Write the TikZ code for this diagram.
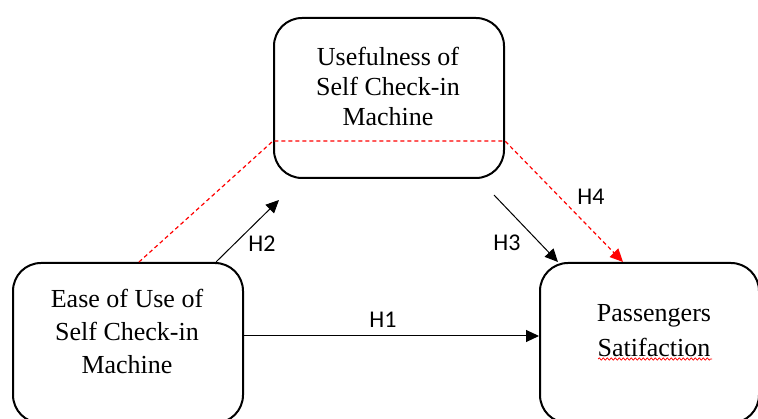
\documentclass[tikz,border=0pt]{standalone}
\usepackage{fontspec}
\setmainfont{Liberation Serif}
\newfontfamily\hypfont{Carlito}
\usetikzlibrary{arrows.meta,decorations.pathmorphing}

\begin{document}
\begin{tikzpicture}[x=1pt,y=-1pt,
    box node/.style={draw,line width=2pt,rounded corners=28pt,anchor=north west,minimum width=230pt,minimum height=160pt},
    box text/.style={align=center,inner sep=0pt},
    hyp node/.style={font=\hypfont\fontsize{24}{24}\selectfont,inner sep=0pt},
    main arrow/.style={-{Triangle[length=13pt,width=12pt]},line width=1pt},
    red arrow/.style={-{Triangle[length=13pt,width=12pt]},red,line width=1.2pt,dash pattern=on 4pt off 3pt}]
                \clip (0,0) rectangle (758,419);
                \useasboundingbox (0,0) rectangle (758,419);

                \node[box node] at (273, 17) (use) {};
                \node[box node] at (12, 262) (ease) {};
                \node[box node,minimum width=219pt] at (539, 262) (sat) {};

                \node[box text,font=\fontsize{26}{30}\selectfont] at (388, 86) (usetext) {Usefulness of\\Self Check-in\\Machine};
                \node[box text,font=\fontsize{26}{33}\selectfont] at (127, 331) (easetext) {Ease of Use of\\Self Check-in\\Machine};
                \node[box text,font=\fontsize{26}{35}\selectfont] at (654, 331) (sattext) {Passengers\\Satifaction};

                \coordinate (h2tip) at (279, 200);
                \coordinate (h3tail) at (494, 195);

                \draw[main arrow] ([yshift=7pt]ease.east) -- ([yshift=7pt]sat.west);
                \draw[main arrow] ([xshift=88pt]ease.north) -- (h2tip);
                \draw[main arrow] (h3tail) -- ([xshift=-91.5pt]sat.north);
                \draw[red arrow] ([xshift=11pt]ease.north) -- ([yshift=-43pt]use.west)
                    -- ([yshift=-43pt]use.east) -- ([xshift=-26.5pt]sat.north);

                \node[hyp node] at (383, 320) (h1) {H1};
                \node[hyp node] at (262, 244) (h2) {H2};
                \node[hyp node] at (507, 243) (h3) {H3};
                \node[hyp node] at (591, 197) (h4) {H4};

                % spell-check squiggle
                \draw[red,line width=0.7pt,decorate,decoration={snake,amplitude=1.1pt,segment length=4pt}]
                    (598, 359) -- (712, 359);
            \end{tikzpicture}
\end{document}
